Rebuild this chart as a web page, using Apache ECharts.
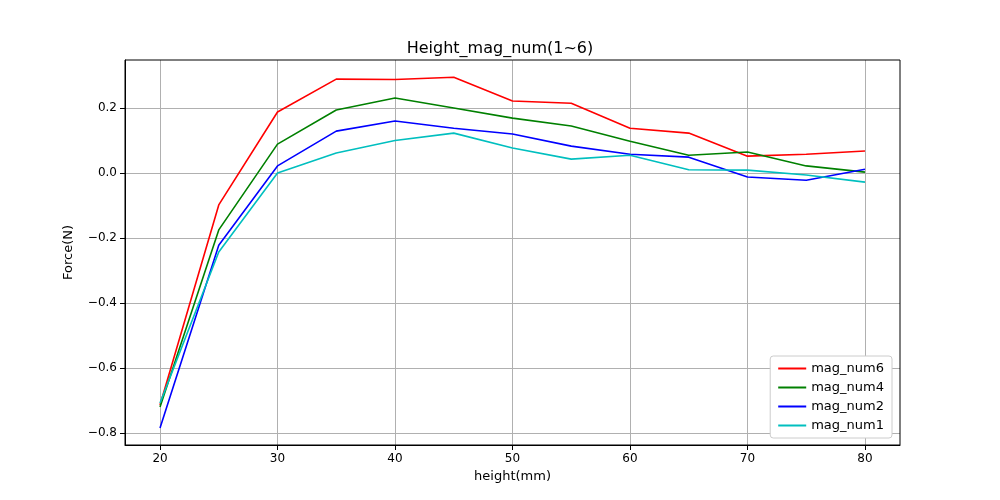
<!DOCTYPE html>
<html><head><meta charset="utf-8">
<script src="https://cdn.jsdelivr.net/npm/echarts@6/dist/echarts.min.js"></script>
<style>body{margin:0}#c{width:1000px;height:500px}</style></head>
<body><div id="c"></div>
<script>
const heights = [20,25,30,35,40,45,50,55,60,65,70,75,80];
const magNum6 = [-0.714,-0.098,0.188,0.289,0.288,0.295,0.222,0.215,0.138,0.123,0.052,0.058,0.068];
const magNum4 = [-0.72,-0.175,0.089,0.194,0.231,0.2,0.169,0.145,0.098,0.055,0.065,0.022,0.003];
const magNum2 = [-0.785,-0.222,0.022,0.129,0.16,0.138,0.12,0.083,0.058,0.049,-0.012,-0.022,0.012];
const magNum1 = [-0.708,-0.243,0.0,0.062,0.1,0.123,0.077,0.043,0.055,0.01,0.009,-0.006,-0.028];
const xTicks = [20,30,40,50,60,70,80];
const yTicks = [-0.8,-0.6,-0.4,-0.2,0,0.2];
const series = [['mag_num6',magNum6,'#ff0000'],['mag_num4',magNum4,'#008000'],['mag_num2',magNum2,'#0000ff'],['mag_num1',magNum1,'#00bfbf']];
const ax = {lineStyle:{color:'#000'}};
const chart = echarts.init(document.getElementById('c'));
chart.setOption({
  animation:false,
  textStyle:{fontFamily:'DejaVu Sans'},
  title:{text:'Height_mag_num(1~6)',left:'center',top:36,textStyle:{fontSize:16,fontWeight:'normal',color:'#000',fontFamily:'DejaVu Sans'}},
  grid:{left:125,right:100,top:60,bottom:55},
  legend:{right:108,bottom:62,orient:'vertical',itemGap:6,itemWidth:28,itemHeight:2,backgroundColor:'#fff',borderColor:'#ccc',borderWidth:1,borderRadius:3,padding:[6,8],
    textStyle:{fontSize:13,color:'#000'},icon:'rect'},
  xAxis:{type:'value',min:17.02,max:82.98,name:'height(mm)',nameLocation:'middle',nameGap:25,nameTextStyle:{fontSize:13,color:'#000'},
    axisLine:{onZero:false,lineStyle:{color:'#000'}},axisTick:{customValues:xTicks,lineStyle:{color:'#000'}},
    axisLabel:{customValues:xTicks,color:'#000',fontSize:12},splitLine:{show:true,lineStyle:{color:'#b0b0b0'}}},
  yAxis:{type:'value',min:-0.837,max:0.348,name:'Force(N)',nameLocation:'middle',nameGap:50,nameTextStyle:{fontSize:13,color:'#000'},
    axisLine:{show:true,onZero:false,lineStyle:{color:'#000'}},axisTick:{show:true,customValues:yTicks,lineStyle:{color:'#000'}},
    axisLabel:{customValues:yTicks,color:'#000',fontSize:12,formatter:v=>(v<0?'−':'')+Math.abs(v).toFixed(1)},splitLine:{show:true,lineStyle:{color:'#b0b0b0'}}},
  series:series.map(([n,d,c])=>({name:n,type:'line',data:heights.map((h,i)=>[h,d[i]]),showSymbol:false,symbol:'none',lineStyle:{color:c,width:1.6},itemStyle:{color:c}}))
});
chart.setOption({graphic:[{type:'rect',shape:{x:125,y:60,width:775,height:385},style:{fill:'none',stroke:'#000',lineWidth:1},silent:true}]});
</script></body></html>
